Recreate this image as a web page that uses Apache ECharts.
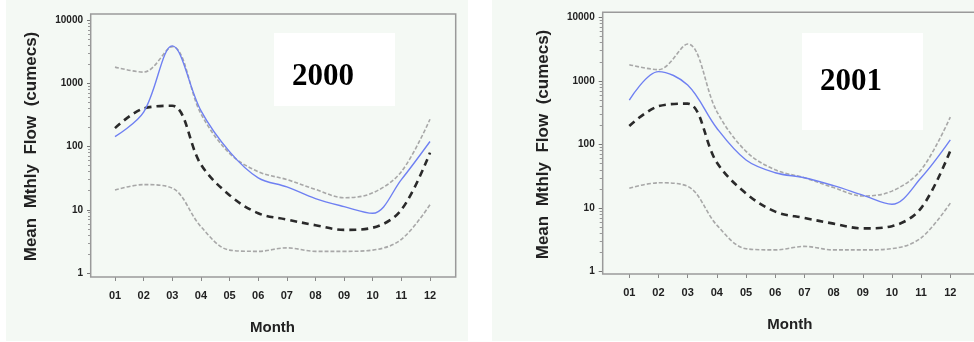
<!DOCTYPE html>
<html>
<head>
<meta charset="utf-8">
<script src="https://cdn.jsdelivr.net/npm/echarts@6/dist/echarts.min.js"></script>
<style>
html,body{margin:0;padding:0;background:#ffffff;}
#c{width:974px;height:342px;}
</style>
</head>
<body>
<div id="c"></div>
<script>
// ---- data ----
const months = ['01','02','03','04','05','06','07','08','09','10','11','12'];
const upperFlow  = [1800, 1500, 3800, 330, 78, 40, 30, 21, 15.5, 18.5, 40, 270];
const medianFlow = [195, 400, 440, 52, 17, 8.8, 7, 5.7, 4.8, 5.2, 10, 80];
const lowerFlow  = [20.5, 25, 22, 5.4, 2.3, 2.2, 2.5, 2.2, 2.2, 2.3, 3.4, 12];
const flow2000   = [143, 350, 3900, 370, 83, 32, 23, 15, 11.2, 8.8, 30, 120];
const flow2001   = [500, 1400, 860, 180, 57, 36, 30, 22.5, 16, 11.5, 30, 118];
const yTickLabels = ['1', '10', '100', '1000', '10000'];
const panelYears = ['2000', '2001'];
const yName = 'Mean  Mthly  Flow  (cumecs)';
const xName = 'Month';

// ---- layout ----
const panels = [
  {grid:{left:115, top:20, width:315, height:253}, yOff:24, xOff:4,
   frame:{x:90.7, y:14, w:365, h:263}, bg:{x:6, w:462},
   box:{x:274, y:33, w:121, h:73}, title:{x:323, y:77}, flow:flow2000},
  {grid:{left:629.3, top:17.3, width:321, height:254.4}, yOff:26.6, xOff:2.3,
   frame:{x:602.7, y:12.3, w:420, h:261.7}, bg:{x:492, w:482},
   box:{x:802, y:33, w:121, h:97}, title:{x:851, y:82}, flow:flow2001}
];

const font = 'Liberation Sans';
const grids = [], xAxes = [], yAxes = [], series = [], graphics = [];

panels.forEach((p, i) => {
  graphics.push({type:'rect', z:-100, shape:{x:p.bg.x, y:0, width:p.bg.w, height:341}, style:{fill:'#f4f9f4'}});
  graphics.push({type:'rect', z:100, shape:{x:p.frame.x, y:p.frame.y, width:p.frame.w, height:p.frame.h},
    style:{fill:null, stroke:'#9a9a9a', lineWidth:1.5}});
  graphics.push({type:'rect', z:50, shape:{x:p.box.x, y:p.box.y, width:p.box.w, height:p.box.h}, style:{fill:'#ffffff'}});
  graphics.push({type:'text', z:60, x:p.title.x, y:p.title.y,
    style:{text:panelYears[i], font:'bold 31px "Liberation Serif"', fill:'#000', align:'center', verticalAlign:'middle'}});

  grids.push(Object.assign({containLabel:false}, p.grid));
  xAxes.push({
    type:'category', gridIndex:i, data:months, boundaryGap:false, offset:p.xOff,
    axisLine:{show:false},
    axisTick:{show:true, length:4, lineStyle:{color:'#888', width:1}},
    axisLabel:{color:'#222', fontFamily:font, fontWeight:'bold', fontSize:11, margin:13},
    splitLine:{show:false},
    name:xName, nameLocation:'middle', nameGap:43,
    nameTextStyle:{color:'#222', fontFamily:font, fontWeight:'bold', fontSize:15}
  });
  yAxes.push({
    type:'log', logBase:10, gridIndex:i, min:1, max:10000, splitNumber:4, offset:p.yOff,
    axisLine:{show:false},
    axisTick:{show:true, length:4, lineStyle:{color:'#777', width:1}},
    minorTick:{show:true, splitNumber:9, length:3, lineStyle:{color:'#999', width:1}},
    axisLabel:{color:'#222', fontFamily:font, fontWeight:'bold', fontSize:10, margin:8,
      formatter:(v) => yTickLabels[Math.round(Math.log10(v))]},
    splitLine:{show:false},
    name:yName, nameLocation:'middle', nameGap:51,
    nameTextStyle:{color:'#222', fontFamily:font, fontWeight:'bold', fontSize:17}
  });

  const common = {type:'line', xAxisIndex:i, yAxisIndex:i, smooth:0.35, symbol:'none', silent:true};
  series.push(Object.assign({}, common, {data:upperFlow, z:2,
    lineStyle:{color:'#a8a8a8', width:1.6, type:[4,2]}}));
  series.push(Object.assign({}, common, {data:lowerFlow, z:2,
    lineStyle:{color:'#a8a8a8', width:1.6, type:[4,2]}}));
  series.push(Object.assign({}, common, {data:medianFlow, z:3,
    lineStyle:{color:'#2a2a2a', width:2.6, type:[7,5]}}));
  series.push(Object.assign({}, common, {data:p.flow, z:4,
    lineStyle:{color:'#6f80f2', width:1.4}}));
});

const chart = echarts.init(document.getElementById('c'), null, {renderer:'canvas'});
chart.setOption({
  animation:false,
  backgroundColor:'#ffffff',
  grid:grids, xAxis:xAxes, yAxis:yAxes, series:series,
  graphic:{elements:graphics}
});
</script>
</body>
</html>
